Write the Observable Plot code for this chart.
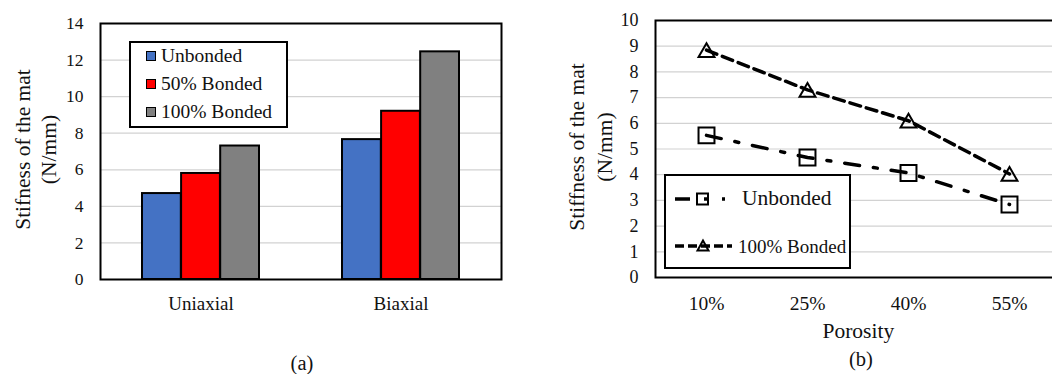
<!DOCTYPE html>
<html><head><meta charset="utf-8">
<script src="https://cdn.jsdelivr.net/npm/d3@7"></script>
<script src="https://cdn.jsdelivr.net/npm/@observablehq/plot@0.6"></script>
<style>
html,body{margin:0;padding:0;background:#fff;}
#wrap{position:relative;width:1052px;height:374px;overflow:hidden;font-family:"Liberation Serif","Times New Roman",serif;color:#111;}
.panel{position:absolute;top:0;}
.cap{position:absolute;font-size:20.5px;line-height:1;transform:translate(-50%,-50%);white-space:nowrap;}
.box{position:absolute;background:#fff;border:2px solid #000;box-sizing:border-box;}
.ltext{position:absolute;line-height:1;white-space:nowrap;transform:translateY(-50%);}
.sw{position:absolute;width:10px;height:10px;box-sizing:border-box;border:1.5px solid #000;}
</style></head>
<body><div id="wrap"></div>
<script>
// ---- Panel (a) data ----
const barCategories = ["Uniaxial", "Biaxial"];
const barSeries = ["Unbonded", "50% Bonded", "100% Bonded"];
const unbondedBars = [4.7, 7.65];
const bonded50Bars = [5.8, 9.2];
const bonded100Bars = [7.3, 12.45];
const barColors = ["#4472C4", "#FF0000", "#808080"];
const yTicksA = [0, 2, 4, 6, 8, 10, 12, 14];
const yTitleA = "Stifness of the mat\n(N/mm)";

// ---- Panel (b) data ----
const porosity = ["10%", "25%", "40%", "55%"];
const unbondedLine = [5.53, 4.67, 4.07, 2.84];
const bondedLine = [8.85, 7.3, 6.1, 4.03];
const yTicksB = [0, 1, 2, 3, 4, 5, 6, 7, 8, 9, 10];
const yTitleB = "Stiffness of the mat\n(N/mm)";
const xTitleB = "Porosity";
const lineSeries = ["Unbonded", "100% Bonded"];

const wrap = document.getElementById("wrap");
const font = {fontFamily: "'Liberation Serif','Times New Roman',serif", background: "transparent", color: "#111", overflow: "visible"};

// ---------- Panel (a) ----------
const wA = 530, mlA = 100, mrA = 29;
const padIn = 0.415, padOut = 0.2075;
const bandA = (wA - mlA - mrA) / (barCategories.length - padIn + 2 * padOut) * (1 - padIn);
const barW = bandA / barSeries.length;
const seriesValues = [unbondedBars, bonded50Bars, bonded100Bars];
const barMarks = barSeries.map((s, i) =>
  Plot.barY(barCategories.map((c, j) => ({category: c, series: s, value: seriesValues[i][j]})), {
    x: "category", y: "value", fill: barColors[i], stroke: "#000", strokeWidth: 2,
    insetLeft: i * barW, insetRight: (barSeries.length - 1 - i) * barW
  })
);
const plotA = Plot.plot({
  width: wA, height: 330,
  marginLeft: mlA, marginRight: mrA, marginTop: 23, marginBottom: 51,
  style: font,
  x: {type: "band", domain: barCategories, paddingInner: padIn, paddingOuter: padOut, axis: null},
  y: {domain: [0, 14], axis: null},
  marks: [
    Plot.gridY({ticks: yTicksA, stroke: "#d2d2d2", strokeOpacity: 1, strokeWidth: 1.2}),
    ...barMarks,
    Plot.frame({stroke: "#000", strokeWidth: 2}),
    Plot.axisY({ticks: yTicksA, tickSize: 0, tickPadding: 17, fontSize: 17.5, label: null}),
    Plot.axisX({tickSize: 0, tickPadding: 17, fontSize: 19, label: null}),
    Plot.text([yTitleA], {text: d => d, frameAnchor: "left", textAnchor: "middle", lineAnchor: "middle", rotate: -90, dx: -66, dy: -2, fontSize: 21.5, lineHeight: 1.22})
  ]
});
plotA.classList.add("panel");
plotA.style.left = "0px";
wrap.appendChild(plotA);

// ---------- Panel (b) ----------
const dataU = porosity.map((p, i) => ({p, v: unbondedLine[i]}));
const dataB = porosity.map((p, i) => ({p, v: bondedLine[i]}));
const plotB = Plot.plot({
  width: 540, height: 345,
  marginLeft: 115, marginRight: 19.3, marginTop: 20, marginBottom: 68,
  style: font,
  x: {type: "point", domain: porosity, padding: 0.5, axis: null},
  y: {domain: [0, 10], axis: null},
  marks: [
    Plot.gridY({ticks: yTicksB, stroke: "#d2d2d2", strokeOpacity: 1, strokeWidth: 1.2}),
    Plot.frame({stroke: "#000", strokeWidth: 2}),
    Plot.line(dataB, {x: "p", y: "v", stroke: "#000", strokeWidth: 3.5, strokeDasharray: "11,6"}),
    Plot.line(dataU, {x: "p", y: "v", stroke: "#000", strokeWidth: 3.5, strokeDasharray: "15,14,4,14"}),
    Plot.dot(dataU, {x: "p", y: "v", symbol: "square", r: 9, stroke: "#000", strokeWidth: 2, fill: "none"}),
    Plot.dot(dataB, {x: "p", y: "v", symbol: "triangle", r: 5.9, dy: 2.3, stroke: "#000", strokeWidth: 2, fill: "none"}),
    Plot.axisY({ticks: yTicksB, tickSize: 0, tickPadding: 17, fontSize: 18, label: null}),
    Plot.axisX({tickSize: 0, tickPadding: 19, fontSize: 19.5, label: null}),
    Plot.text([yTitleB], {text: d => d, frameAnchor: "left", textAnchor: "middle", lineAnchor: "middle", rotate: -90, dx: -66.3, dy: -2, fontSize: 21.5, lineHeight: 1.27}),
    Plot.text([xTitleB], {text: d => d, frameAnchor: "bottom", textAnchor: "middle", lineAnchor: "middle", dy: 54, fontSize: 21.5})
  ]
});
plotB.classList.add("panel");
plotB.style.left = "540px";
wrap.appendChild(plotB);

// ---------- Legend (a) ----------
function el(tag, cls, css, txt) {
  const e = document.createElement(tag);
  if (cls) e.className = cls;
  Object.assign(e.style, css);
  if (txt != null) e.textContent = txt;
  wrap.appendChild(e);
  return e;
}
el("div", "box", {left: "129px", top: "41px", width: "159px", height: "87px"});
barSeries.forEach((s, i) => {
  const cy = 56 + i * 28;
  el("div", "sw", {left: "146px", top: (cy - 5) + "px", background: barColors[i]});
  el("div", "ltext", {left: "161px", top: cy + "px", fontSize: "19.5px"}, s);
});

// ---------- Legend (b) ----------
el("div", "box", {left: "664px", top: "174px", width: "187px", height: "95px"});
const ns = "http://www.w3.org/2000/svg";
const lsvg = document.createElementNS(ns, "svg");
lsvg.setAttribute("width", "1052"); lsvg.setAttribute("height", "374");
Object.assign(lsvg.style, {position: "absolute", left: "0", top: "0", pointerEvents: "none"});
lsvg.innerHTML =
  '<line x1="675" y1="199" x2="725" y2="199" stroke="#000" stroke-width="3.5" stroke-dasharray="15,14,4,14"/>' +
  '<rect x="697" y="193.5" width="11" height="11" fill="none" stroke="#000" stroke-width="2"/>' +
  '<line x1="675" y1="246" x2="732" y2="246" stroke="#000" stroke-width="3.5" stroke-dasharray="9,4"/>' +
  '<polygon points="703,240.5 697.5,250.5 708.5,250.5" fill="none" stroke="#000" stroke-width="2"/>';
wrap.appendChild(lsvg);
el("div", "ltext", {left: "742px", top: "199px", fontSize: "21.5px"}, lineSeries[0]);
el("div", "ltext", {left: "738px", top: "246px", fontSize: "19px"}, lineSeries[1]);

// ---------- Captions ----------
el("div", "cap", {left: "302px", top: "362.5px"}, "(a)");
el("div", "cap", {left: "861px", top: "358.5px"}, "(b)");
</script></body></html>
